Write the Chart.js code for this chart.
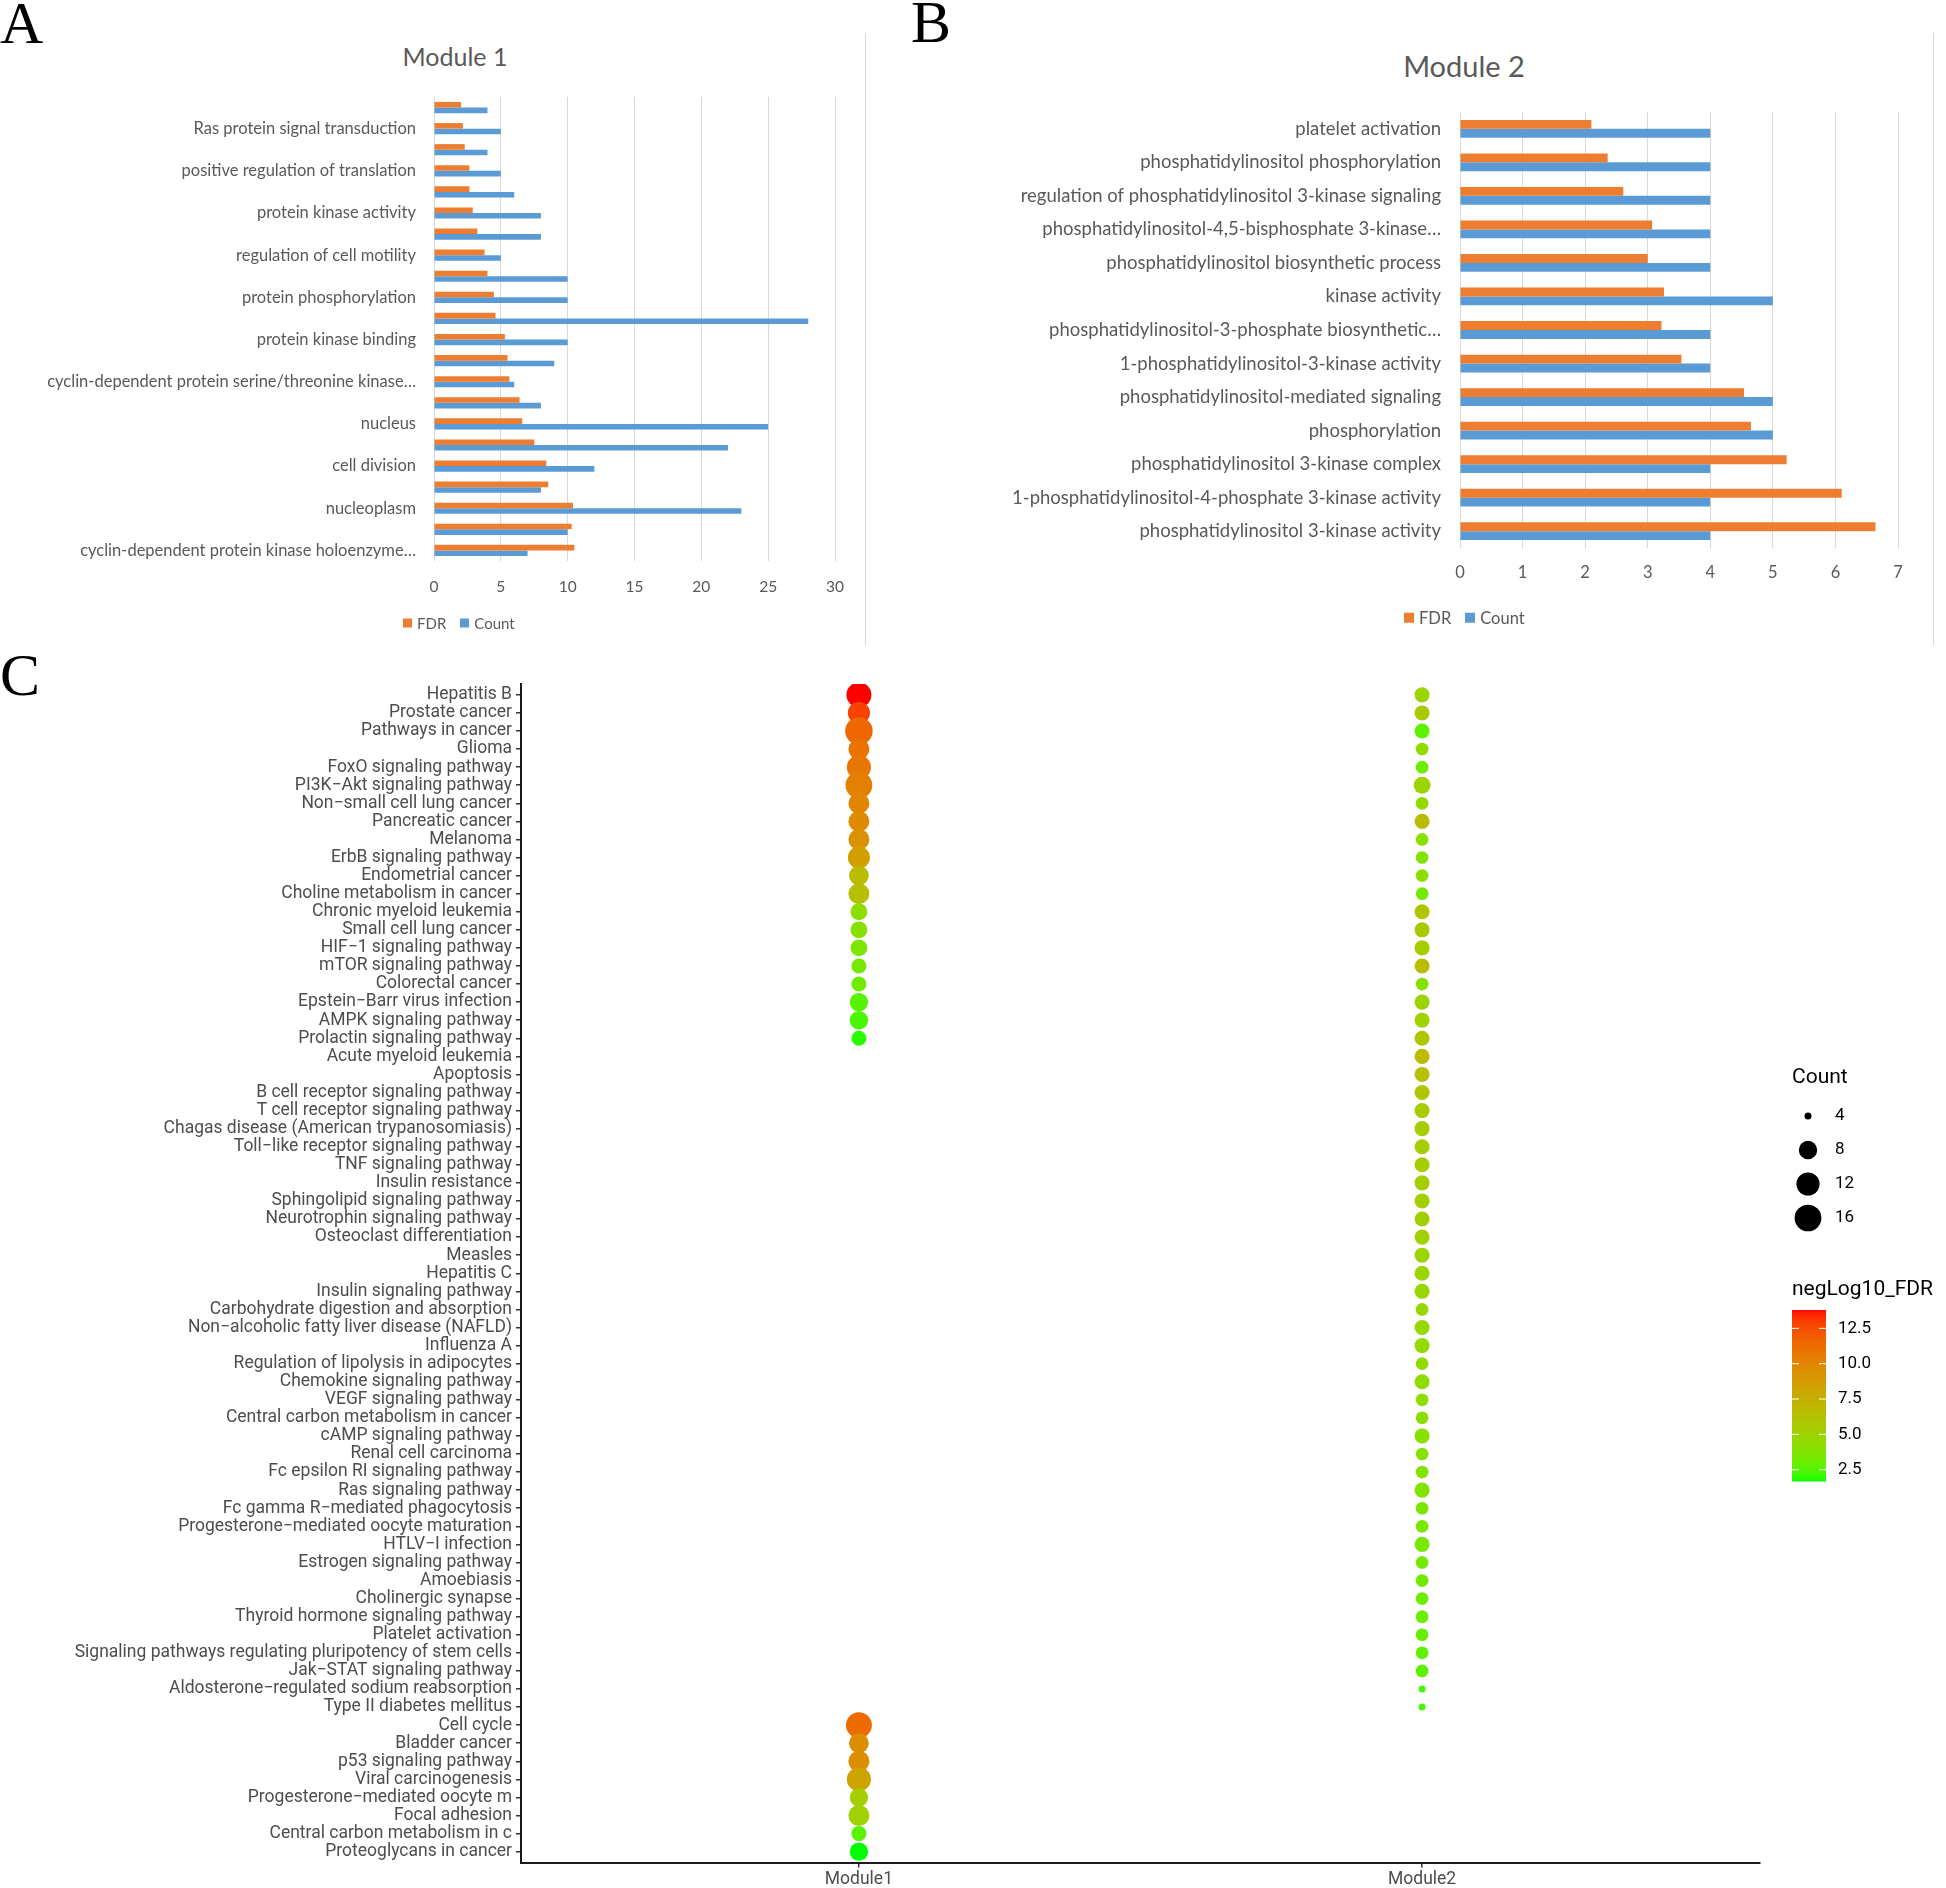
<!DOCTYPE html>
<html>
<head>
<meta charset="utf-8">
<script src="https://cdn.jsdelivr.net/npm/chart.js@4.4.1/dist/chart.umd.min.js"></script>
<style>
  html, body { margin: 0; padding: 0; background: #fff; }
  body { width: 1946px; height: 1888px; position: relative; overflow: hidden; }
  canvas { position: absolute; }
  .letter { position: absolute; font-family: 'Liberation Serif', 'DejaVu Serif', serif; font-size: 60px; line-height: 1; color: #000; }
  .title { position: absolute; font-family: Lato, sans-serif; color: #595959; line-height: 1; white-space: nowrap; transform: translate(-50%, -50%); }
  .frame { position: absolute; width: 0; border-left: 1px solid #d9d9d9; }
  .legend { position: absolute; display: flex; align-items: center; font-family: Lato, sans-serif; color: #595959; line-height: 1; transform: translateY(-50%); white-space: nowrap; }
  .legend i { display: inline-block; margin-right: 5px; }
  .legend span { margin-right: 14px; }
</style>
</head>
<body>
<div class="letter" style="left:0px; top:-7px;">A</div>
<div class="letter" style="left:911px; top:-8px;">B</div>
<div class="letter" style="left:0px; top:645px;">C</div>
<div class="title" style="left:455px; top:56px; font-size:25px;">Module 1</div>
<div class="title" style="left:1464px; top:65px; font-size:29px;">Module 2</div>
<div class="frame" style="left:865px; top:33px; height:612px;"></div>
<div class="frame" style="left:1933px; top:33px; height:612px;"></div>

<canvas id="chartA" width="866" height="645" style="left:0; top:0;"></canvas>
<canvas id="chartB" width="1054" height="645" style="left:880px; top:0;"></canvas>
<canvas id="chartC" width="1946" height="1228" style="left:0; top:660px;"></canvas>
<div class="legend" id="legendA" style="left:403px; top:623px; font-size:15px;"></div>
<div class="legend" id="legendB" style="left:1404px; top:618px; font-size:16.5px;"></div>

<script>
// ---------- panel A : Module 1 GO terms (top to bottom) ----------
const goTermsM1 = [
  '', 'Ras protein signal transduction',
  '', 'positive regulation of translation',
  '', 'protein kinase activity',
  '', 'regulation of cell motility',
  '', 'protein phosphorylation',
  '', 'protein kinase binding',
  '', 'cyclin-dependent protein serine/threonine kinase…',
  '', 'nucleus',
  '', 'cell division',
  '', 'nucleoplasm',
  '', 'cyclin-dependent protein kinase holoenzyme…'
];
const fdrM1 = [2.03, 2.16, 2.3, 2.65, 2.65, 2.9, 3.24, 3.78, 4.0, 4.48, 4.6, 5.3, 5.5, 5.64, 6.4, 6.6, 7.5, 8.4, 8.55, 10.4, 10.3, 10.5];
const countM1 = [4, 5, 4, 5, 6, 8, 8, 5, 10, 10, 28, 10, 9, 6, 8, 25, 22, 12, 8, 23, 10, 7];

// ---------- panel B : Module 2 GO terms ----------
const goTermsM2 = [
  'platelet activation',
  'phosphatidylinositol phosphorylation',
  'regulation of phosphatidylinositol 3-kinase signaling',
  'phosphatidylinositol-4,5-bisphosphate 3-kinase…',
  'phosphatidylinositol biosynthetic process',
  'kinase activity',
  'phosphatidylinositol-3-phosphate biosynthetic…',
  '1-phosphatidylinositol-3-kinase activity',
  'phosphatidylinositol-mediated signaling',
  'phosphorylation',
  'phosphatidylinositol 3-kinase complex',
  '1-phosphatidylinositol-4-phosphate 3-kinase activity',
  'phosphatidylinositol 3-kinase activity'
];
const fdrM2 = [2.1, 2.36, 2.61, 3.07, 3.0, 3.26, 3.22, 3.54, 4.54, 4.65, 5.22, 6.1, 6.64];
const countM2 = [4, 4, 4, 4, 4, 5, 4, 4, 5, 5, 4, 4, 4];

// ---------- panel C : KEGG pathways ----------
const pathways = [
  'Hepatitis B', 'Prostate cancer', 'Pathways in cancer', 'Glioma', 'FoxO signaling pathway',
  'PI3K\u2212Akt signaling pathway', 'Non\u2212small cell lung cancer', 'Pancreatic cancer', 'Melanoma',
  'ErbB signaling pathway', 'Endometrial cancer', 'Choline metabolism in cancer', 'Chronic myeloid leukemia',
  'Small cell lung cancer', 'HIF\u22121 signaling pathway', 'mTOR signaling pathway', 'Colorectal cancer',
  'Epstein\u2212Barr virus infection', 'AMPK signaling pathway', 'Prolactin signaling pathway',
  'Acute myeloid leukemia', 'Apoptosis', 'B cell receptor signaling pathway', 'T cell receptor signaling pathway',
  'Chagas disease (American trypanosomiasis)', 'Toll\u2212like receptor signaling pathway', 'TNF signaling pathway',
  'Insulin resistance', 'Sphingolipid signaling pathway', 'Neurotrophin signaling pathway',
  'Osteoclast differentiation', 'Measles', 'Hepatitis C', 'Insulin signaling pathway',
  'Carbohydrate digestion and absorption', 'Non\u2212alcoholic fatty liver disease (NAFLD)', 'Influenza A',
  'Regulation of lipolysis in adipocytes', 'Chemokine signaling pathway', 'VEGF signaling pathway',
  'Central carbon metabolism in cancer', 'cAMP signaling pathway', 'Renal cell carcinoma',
  'Fc epsilon RI signaling pathway', 'Ras signaling pathway', 'Fc gamma R\u2212mediated phagocytosis',
  'Progesterone\u2212mediated oocyte maturation', 'HTLV\u2212I infection', 'Estrogen signaling pathway',
  'Amoebiasis', 'Cholinergic synapse', 'Thyroid hormone signaling pathway', 'Platelet activation',
  'Signaling pathways regulating pluripotency of stem cells', 'Jak\u2212STAT signaling pathway',
  'Aldosterone\u2212regulated sodium reabsorption', 'Type II diabetes mellitus', 'Cell cycle',
  'Bladder cancer', 'p53 signaling pathway', 'Viral carcinogenesis', 'Progesterone\u2212mediated oocyte m',
  'Focal adhesion', 'Central carbon metabolism in c', 'Proteoglycans in cancer'
];
const modules = ['Module1', 'Module2'];
const N = null;
const m1Count = [14, 11, 17, 10, 13, 16, 10, 10, 10, 11, 9, 10, 7, 7, 7, 6, 6, 8, 8, 6,
  N, N, N, N, N, N, N, N, N, N, N, N, N, N, N, N, N, N, N, N, N, N, N, N, N, N, N, N, N, N, N, N, N, N, N, N, N,
  15, 9, 10, 13, 8, 10, 6, 8];
const m1NegLog = [13.8, 12.8, 11.5, 11.0, 10.8, 10.3, 10.1, 9.7, 9.3, 8.5, 6.6, 6.4, 4.2, 4.0, 3.6, 3.4, 3.2, 2.6, 2.3, 1.9,
  N, N, N, N, N, N, N, N, N, N, N, N, N, N, N, N, N, N, N, N, N, N, N, N, N, N, N, N, N, N, N, N, N, N, N, N, N,
  11.3, 9.5, 9.5, 8.2, 5.3, 5.1, 2.6, 1.7];
const m2Count = [6, 6, 6, 5, 5, 7, 5, 6, 5, 5, 5, 5, 6, 6, 6, 6, 5, 6, 6, 6, 6, 6, 6, 6, 6, 6, 6,
  6, 6, 6, 6, 6, 6, 6, 5, 6, 6, 5, 6, 5, 5, 6, 5, 5, 6, 5, 5, 6, 5, 5, 5, 5, 5, 5, 5, 4, 4,
  N, N, N, N, N, N, N, N];
const m2NegLog = [5.0, 5.7, 2.7, 4.5, 3.0, 5.0, 4.5, 6.6, 4.0, 3.9, 4.2, 3.3, 6.0, 5.7, 5.4, 6.6, 4.0, 5.0, 5.1, 6.0, 6.6, 6.4, 6.0, 5.5, 5.4, 5.4, 5.4,
  5.4, 5.3, 5.2, 5.1, 5.0, 4.9, 4.8, 4.7, 4.6, 4.5, 4.4, 4.3, 4.2, 4.1, 4.0, 3.9, 3.8, 3.7, 3.6, 3.5, 3.4, 3.3, 3.2, 3.1, 3.0, 2.9, 2.8, 2.7, 2.2, 2.2,
  N, N, N, N, N, N, N, N];
const countLegend = [4, 8, 12, 16];
const fdrLegendTicks = [2.5, 5, 7.5, 10, 12.5];

//-----------------------------------------------
Chart.defaults.font.family = 'Lato';
Chart.defaults.animation = false;
const fdrOrange = '#ED7D31';
const countBlue = '#5B9BD5';
const excelGray = '#595959';

function excelBarOptions(cfg) {
  return {
    indexAxis: 'y',
    responsive: false,
    animation: false,
    categoryPercentage: 0.53,
    barPercentage: 1,
    layout: { padding: { top: cfg.top, right: cfg.right, bottom: cfg.bottom, left: 0 } },
    plugins: { legend: { display: false }, tooltip: { enabled: false } },
    scales: {
      x: {
        min: 0, max: cfg.max,
        ticks: { stepSize: cfg.step, color: excelGray, font: { size: cfg.tickSize }, padding: cfg.tickPad },
        grid: { color: '#d9d9d9', drawTicks: false },
        border: { display: false },
        afterFit: function(s) { s.height = cfg.xHeight; }
      },
      y: {
        ticks: { autoSkip: false, color: excelGray, font: { size: cfg.labelSize }, padding: cfg.labelPad },
        grid: { display: false },
        border: { display: false },
        afterFit: function(s) { s.width = cfg.yWidth; }
      }
    }
  };
}

// excel style legend below the bars, built from the chart's datasets
function htmlLegend(chart, id, box) {
  const el = document.getElementById(id);
  chart.data.datasets.forEach(function(ds) {
    const sw = document.createElement('i');
    sw.style.width = box + 'px';
    sw.style.height = box + 'px';
    sw.style.background = ds.backgroundColor;
    const tx = document.createElement('span');
    tx.textContent = ds.label;
    el.appendChild(sw);
    el.appendChild(tx);
  });
}

const chartA = new Chart(document.getElementById('chartA'), {
  type: 'bar',
  data: {
    labels: goTermsM1,
    datasets: [
      { label: 'FDR', data: fdrM1, backgroundColor: fdrOrange },
      { label: 'Count', data: countM1, backgroundColor: countBlue }
    ]
  },
  options: excelBarOptions({ top: 97, right: 31, bottom: 38, max: 30, step: 5, tickSize: 15.5, tickPad: 17,
    labelSize: 16.5, labelPad: 10, xHeight: 46, yWidth: 434 })
});
htmlLegend(chartA, 'legendA', 9);

const chartB = new Chart(document.getElementById('chartB'), {
  type: 'bar',
  data: {
    labels: goTermsM2,
    datasets: [
      { label: 'FDR', data: fdrM2, backgroundColor: fdrOrange },
      { label: 'Count', data: countM2, backgroundColor: countBlue }
    ]
  },
  options: excelBarOptions({ top: 112, right: 36, bottom: 45, max: 7, step: 1, tickSize: 16.5, tickPad: 15,
    labelSize: 18.5, labelPad: 11, xHeight: 52, yWidth: 580 })
});
htmlLegend(chartB, 'legendB', 10);

//-----------------------------------------------
// colour scale green -> red interpolated in CIELAB (like ggplot scale_colour_gradient)
function toLin(c) { c /= 255; return c <= 0.04045 ? c / 12.92 : Math.pow((c + 0.055) / 1.055, 2.4); }
function toSrgb(c) {
  c = c <= 0.0031308 ? 12.92 * c : 1.055 * Math.pow(c, 1 / 2.4) - 0.055;
  return Math.round(Math.max(0, Math.min(1, c)) * 255);
}
function rgbToLab(rgb) {
  const r = toLin(rgb[0]), g = toLin(rgb[1]), b = toLin(rgb[2]);
  const X = (0.4124 * r + 0.3576 * g + 0.1805 * b) / 0.95047;
  const Y = (0.2126 * r + 0.7152 * g + 0.0722 * b);
  const Z = (0.0193 * r + 0.1192 * g + 0.9505 * b) / 1.08883;
  const f = t => t > 0.008856 ? Math.cbrt(t) : 7.787 * t + 16 / 116;
  return [116 * f(Y) - 16, 500 * (f(X) - f(Y)), 200 * (f(Y) - f(Z))];
}
function labToRgb(lab) {
  const fy = (lab[0] + 16) / 116, fx = fy + lab[1] / 500, fz = fy - lab[2] / 200;
  const inv = t => t > 0.2069 ? t * t * t : (t - 16 / 116) / 7.787;
  const X = inv(fx) * 0.95047, Y = inv(fy), Z = inv(fz) * 1.08883;
  const r = 3.2406 * X - 1.5372 * Y - 0.4986 * Z;
  const g = -0.9689 * X + 1.8758 * Y + 0.0415 * Z;
  const b = 0.0557 * X - 0.2040 * Y + 1.0570 * Z;
  return [toSrgb(r), toSrgb(g), toSrgb(b)];
}
const labLow = rgbToLab([0, 255, 0]);
const labHigh = rgbToLab([255, 0, 0]);
const allNegLog = m1NegLog.concat(m2NegLog).filter(v => v !== null);
const fdrMin = Math.min.apply(null, allNegLog);
const fdrMax = Math.max.apply(null, allNegLog);
function fdrColor(v) {
  const t = Math.max(0, Math.min(1, (v - fdrMin) / (fdrMax - fdrMin)));
  const c = labToRgb([0, 1, 2].map(k => labLow[k] + (labHigh[k] - labLow[k]) * t));
  return 'rgb(' + c[0] + ',' + c[1] + ',' + c[2] + ')';
}
function dotRadius(count) {
  return (7 + 5.7 * Math.sqrt(Math.max(0, count - 4))) / 2;
}
function buildPoints(counts, values, xPos) {
  const pts = [];
  counts.forEach(function(c, i) {
    if (c === null) return;
    pts.push({ x: xPos, y: i + 1, r: dotRadius(c), v: values[i] });
  });
  return pts;
}

const sizeColorLegend = {
  id: 'sizeColorLegend',
  afterDraw(chart) {
    const ctx = chart.ctx;
    const x0 = chart.chartArea.right + 32;
    ctx.save();
    ctx.textBaseline = 'middle';
    ctx.textAlign = 'left';
    ctx.fillStyle = '#000';
    ctx.font = '21px Roboto';
    ctx.fillText('Count', x0, 418);
    countLegend.forEach(function(c, i) {
      const y = 456 + i * 34;
      ctx.fillStyle = '#000';
      ctx.beginPath();
      ctx.arc(x0 + 16, y, dotRadius(c), 0, Math.PI * 2);
      ctx.fill();
      ctx.font = '17px Roboto';
      ctx.fillText(String(c), x0 + 43, y);
    });
    ctx.font = '21px Roboto';
    ctx.fillText('negLog10_FDR', x0, 630);
    const top = 650, h = 171, w = 34;
    for (let k = 0; k < h; k++) {
      const v = fdrMax - (k + 0.5) / h * (fdrMax - fdrMin);
      ctx.fillStyle = fdrColor(v);
      ctx.fillRect(x0, top + k, w, 1.5);
    }
    fdrLegendTicks.forEach(function(v) {
      const y = top + h - (v - fdrMin) / (fdrMax - fdrMin) * h;
      ctx.strokeStyle = '#fff';
      ctx.lineWidth = 1;
      ctx.beginPath();
      ctx.moveTo(x0, y); ctx.lineTo(x0 + 7, y);
      ctx.moveTo(x0 + w - 7, y); ctx.lineTo(x0 + w, y);
      ctx.stroke();
      ctx.fillStyle = '#000';
      ctx.font = '17px Roboto';
      ctx.fillText(v.toFixed(1), x0 + 46, y);
    });
    ctx.restore();
  }
};

new Chart(document.getElementById('chartC'), {
  type: 'bubble',
  data: {
    datasets: [
      { label: 'Module1', data: buildPoints(m1Count, m1NegLog, 1) },
      { label: 'Module2', data: buildPoints(m2Count, m2NegLog, 2) }
    ]
  },
  options: {
    responsive: false,
    animation: false,
    layout: { padding: { top: 24, right: 186, bottom: 0, left: 0 } },
    elements: {
      point: {
        backgroundColor: function(ctx) { return ctx.raw ? fdrColor(ctx.raw.v) : '#000'; },
        borderWidth: 0,
        hoverRadius: 0
      }
    },
    plugins: { legend: { display: false }, tooltip: { enabled: false } },
    scales: {
      x: {
        type: 'linear', min: 0.4, max: 2.6,
        afterBuildTicks: function(s) { s.ticks = modules.map(function(m, i) { return { value: i + 1 }; }); },
        ticks: {
          callback: function(value) { return modules[value - 1]; },
          color: '#4D4D4D', font: { family: 'Roboto', size: 17.5 }, padding: 2
        },
        grid: { drawOnChartArea: false, drawTicks: true, tickLength: 5, color: '#333', lineWidth: 1.5 },
        border: { display: true, color: '#1a1a1a', width: 2 },
        afterFit: function(s) { s.height = 25.5; }
      },
      y: {
        type: 'linear', reverse: true, min: 0.4, max: pathways.length + 0.6,
        afterBuildTicks: function(s) { s.ticks = pathways.map(function(p, i) { return { value: i + 1 }; }); },
        ticks: {
          autoSkip: false,
          callback: function(value) { return pathways[value - 1]; },
          color: '#4D4D4D', font: { family: 'Roboto', size: 17.5 }, padding: 4
        },
        grid: { drawOnChartArea: false, drawTicks: true, tickLength: 5, color: '#333', lineWidth: 1.5 },
        border: { display: true, color: '#1a1a1a', width: 2 },
        afterFit: function(s) { s.width = 521; }
      }
    }
  },
  plugins: [sizeColorLegend]
});
</script>
</body>
</html>
